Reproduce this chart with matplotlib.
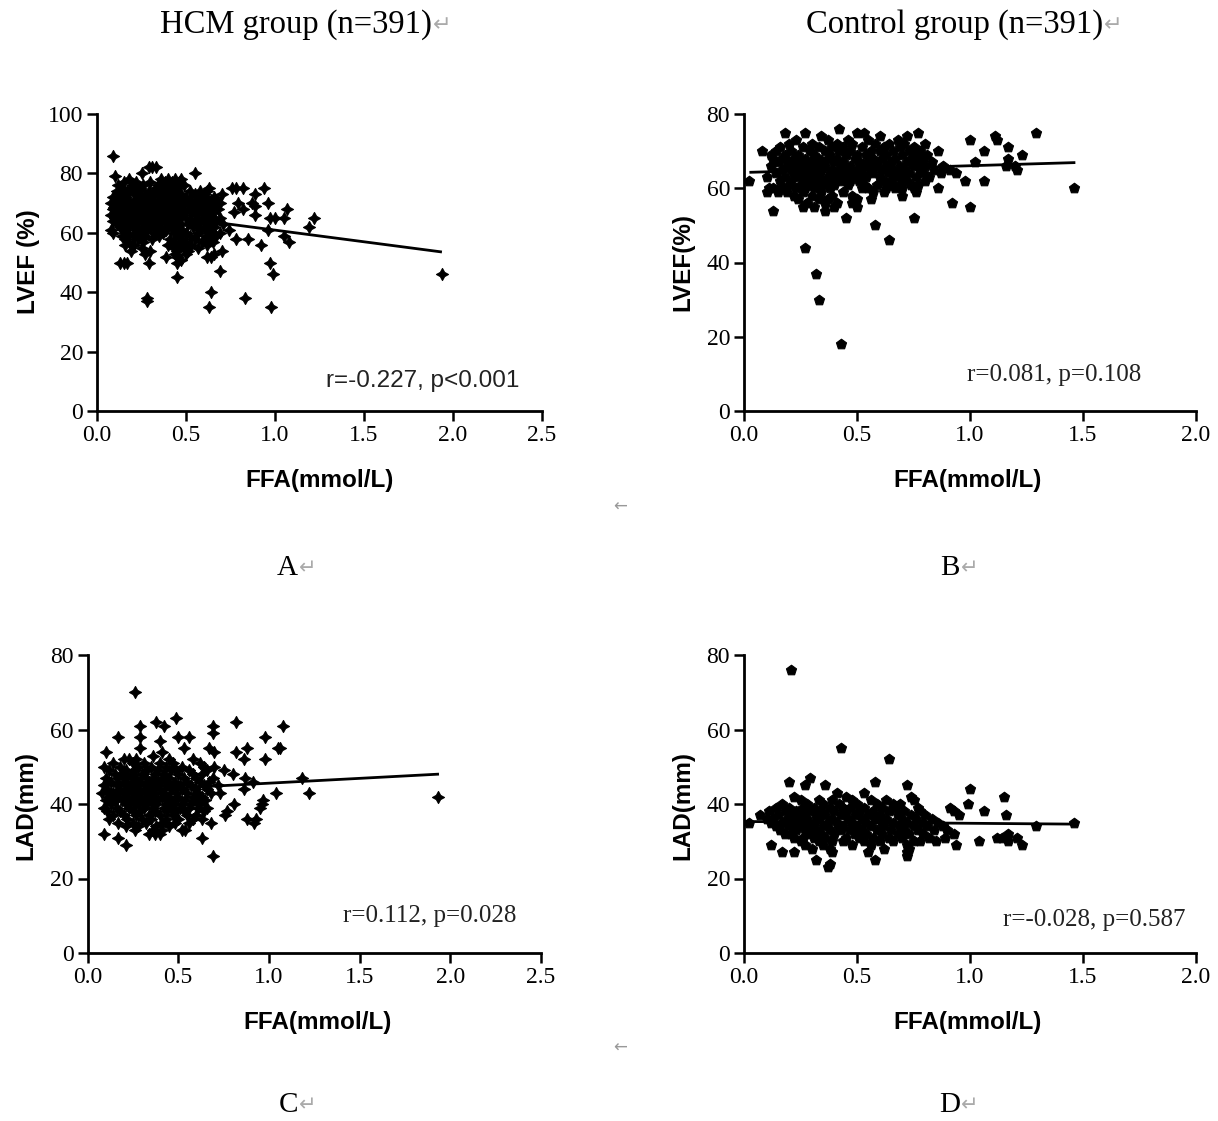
import matplotlib
matplotlib.use("Agg")
import matplotlib.pyplot as plt

W, H = 1218, 1121

# ---------------- data (FFA mmol/L, outcome) ----------------
hcm_lvef_points = [
    (0.09, 86),
    (0.29, 82), (0.31, 82), (0.33, 82),
    (0.10, 79), (0.25, 80), (0.55, 80),
    (0.18, 78), (0.36, 78), (0.40, 78), (0.44, 78), (0.47, 78),
    (0.15, 77), (0.22, 77), (0.30, 77), (0.38, 77), (0.42, 77), (0.46, 77),
    (0.12, 76), (0.20, 76), (0.26, 76), (0.34, 76), (0.39, 76), (0.43, 76), (0.49, 76),
    (0.14, 75), (0.19, 75), (0.24, 75), (0.33, 75), (0.37, 75), (0.41, 75), (0.45, 75), (0.63, 75),
    (0.76, 75), (0.78, 75), (0.82, 75), (0.94, 75),
    (0.11, 74), (0.17, 74), (0.23, 74), (0.29, 74), (0.35, 74), (0.40, 74), (0.44, 74), (0.52, 74),
    (0.58, 74), (0.62, 74),
    (0.13, 73), (0.21, 73), (0.27, 73), (0.32, 73), (0.38, 73), (0.42, 73), (0.47, 73), (0.55, 73),
    (0.60, 73), (0.70, 73), (0.89, 73),
    (0.09, 72), (0.16, 72), (0.24, 72), (0.30, 72), (0.36, 72), (0.41, 72), (0.45, 72), (0.50, 72),
    (0.57, 72), (0.61, 72), (0.66, 72),
    (0.12, 71), (0.18, 71), (0.22, 71), (0.28, 71), (0.34, 71), (0.39, 71), (0.43, 71), (0.48, 71),
    (0.53, 71), (0.59, 71), (0.64, 71), (0.67, 71),
    (0.08, 70), (0.14, 70), (0.20, 70), (0.26, 70), (0.31, 70), (0.37, 70), (0.40, 70), (0.46, 70),
    (0.51, 70), (0.56, 70), (0.62, 70), (0.69, 70), (0.79, 70), (0.87, 70), (0.96, 70),
    (0.10, 69), (0.17, 69), (0.23, 69), (0.29, 69), (0.33, 69), (0.38, 69), (0.42, 69), (0.47, 69),
    (0.54, 69), (0.60, 69), (0.65, 69), (0.89, 69),
    (0.09, 68), (0.13, 68), (0.19, 68), (0.25, 68), (0.30, 68), (0.35, 68), (0.41, 68), (0.44, 68),
    (0.49, 68), (0.58, 68), (0.63, 68), (0.68, 68), (0.82, 68), (1.07, 68),
    (0.11, 67), (0.16, 67), (0.21, 67), (0.27, 67), (0.32, 67), (0.36, 67), (0.40, 67), (0.45, 67),
    (0.52, 67), (0.57, 67), (0.61, 67), (0.66, 67), (0.77, 67),
    (0.08, 66), (0.14, 66), (0.18, 66), (0.24, 66), (0.28, 66), (0.34, 66), (0.39, 66), (0.43, 66),
    (0.48, 66), (0.55, 66), (0.62, 66), (0.89, 66),
    (0.10, 65), (0.15, 65), (0.22, 65), (0.26, 65), (0.31, 65), (0.37, 65), (0.41, 65), (0.46, 65),
    (0.50, 65), (0.59, 65), (0.64, 65), (0.69, 65), (0.97, 65), (1.00, 65), (1.05, 65), (1.22, 65),
    (0.09, 64), (0.12, 64), (0.19, 64), (0.23, 64), (0.29, 64), (0.35, 64), (0.38, 64), (0.44, 64),
    (0.53, 64), (0.57, 64), (0.61, 64), (0.67, 64),
    (0.11, 63), (0.16, 63), (0.21, 63), (0.27, 63), (0.33, 63), (0.40, 63), (0.47, 63), (0.51, 63),
    (0.56, 63), (0.63, 63), (0.71, 63),
    (0.13, 62), (0.18, 62), (0.25, 62), (0.30, 62), (0.36, 62), (0.42, 62), (0.45, 62), (0.54, 62),
    (0.60, 62), (0.66, 62), (1.19, 62),
    (0.08, 61), (0.15, 61), (0.22, 61), (0.28, 61), (0.34, 61), (0.39, 61), (0.48, 61), (0.58, 61),
    (0.62, 61), (0.74, 61), (0.96, 61),
    (0.09, 60), (0.17, 60), (0.24, 60), (0.32, 60), (0.37, 60), (0.43, 60), (0.50, 60), (0.57, 60),
    (0.64, 60), (0.69, 60),
    (0.14, 59), (0.20, 59), (0.27, 59), (0.35, 59), (0.46, 59), (0.52, 59), (0.61, 59), (0.67, 59),
    (1.05, 59),
    (0.16, 58), (0.23, 58), (0.31, 58), (0.41, 58), (0.48, 58), (0.55, 58), (0.63, 58), (0.78, 58),
    (0.85, 58),
    (0.18, 57), (0.26, 57), (0.44, 57), (0.50, 57), (0.59, 57), (0.65, 57), (1.08, 57),
    (0.16, 56), (0.21, 56), (0.40, 56), (0.47, 56), (0.53, 56), (0.62, 56), (0.92, 56),
    (0.25, 55), (0.43, 55), (0.49, 55), (0.57, 55),
    (0.19, 54), (0.30, 54), (0.45, 54), (0.51, 54), (0.70, 54),
    (0.27, 53), (0.44, 53), (0.50, 53), (0.66, 53),
    (0.39, 52), (0.45, 52), (0.62, 52), (0.64, 52),
    (0.47, 51),
    (0.13, 50), (0.15, 50), (0.17, 50), (0.29, 50), (0.45, 50), (0.97, 50),
    (0.69, 47), (0.99, 46), (1.94, 46), (0.45, 45), (0.64, 40), (0.28, 38), (0.83, 38),
    (0.28, 37), (0.63, 35), (0.98, 35),
]

ctrl_lvef_points = [
    (0.42, 76),
    (0.18, 75), (0.27, 75), (0.50, 75), (0.53, 75), (0.77, 75), (1.29, 75),
    (0.34, 74), (0.60, 74), (0.72, 74), (1.11, 74),
    (0.23, 73), (0.37, 73), (0.46, 73), (0.55, 73), (0.68, 73), (1.00, 73), (1.12, 73),
    (0.20, 72), (0.30, 72), (0.41, 72), (0.48, 72), (0.58, 72), (0.64, 72), (0.71, 72), (0.80, 72),
    (0.16, 71), (0.26, 71), (0.33, 71), (0.39, 71), (0.44, 71), (0.52, 71), (0.62, 71), (0.69, 71),
    (0.75, 71), (1.17, 71),
    (0.08, 70), (0.14, 70), (0.21, 70), (0.29, 70), (0.36, 70), (0.42, 70), (0.47, 70), (0.56, 70),
    (0.60, 70), (0.66, 70), (0.73, 70), (0.78, 70), (0.86, 70), (1.06, 70),
    (0.12, 69), (0.18, 69), (0.24, 69), (0.31, 69), (0.38, 69), (0.45, 69), (0.50, 69), (0.54, 69),
    (0.63, 69), (0.70, 69), (0.76, 69), (0.81, 69), (1.23, 69),
    (0.13, 68), (0.17, 68), (0.22, 68), (0.27, 68), (0.33, 68), (0.37, 68), (0.41, 68), (0.49, 68),
    (0.57, 68), (0.61, 68), (0.67, 68), (0.74, 68), (0.79, 68), (1.17, 68),
    (0.15, 67), (0.20, 67), (0.25, 67), (0.30, 67), (0.35, 67), (0.40, 67), (0.44, 67), (0.51, 67),
    (0.55, 67), (0.59, 67), (0.65, 67), (0.72, 67), (0.77, 67), (0.83, 67), (1.02, 67),
    (0.12, 66), (0.19, 66), (0.23, 66), (0.28, 66), (0.32, 66), (0.36, 66), (0.43, 66), (0.47, 66),
    (0.53, 66), (0.58, 66), (0.63, 66), (0.69, 66), (0.75, 66), (0.80, 66), (0.88, 66), (1.16, 66),
    (1.20, 66),
    (0.17, 65), (0.21, 65), (0.26, 65), (0.31, 65), (0.34, 65), (0.39, 65), (0.42, 65), (0.46, 65),
    (0.50, 65), (0.56, 65), (0.61, 65), (0.66, 65), (0.71, 65), (0.78, 65), (0.84, 65), (0.91, 65),
    (1.21, 65),
    (0.14, 64), (0.22, 64), (0.25, 64), (0.29, 64), (0.33, 64), (0.38, 64), (0.45, 64), (0.48, 64),
    (0.52, 64), (0.57, 64), (0.64, 64), (0.68, 64), (0.73, 64), (0.79, 64), (0.87, 64), (0.94, 64),
    (0.10, 63), (0.18, 63), (0.24, 63), (0.28, 63), (0.32, 63), (0.37, 63), (0.41, 63), (0.44, 63),
    (0.49, 63), (0.54, 63), (0.60, 63), (0.67, 63), (0.70, 63), (0.76, 63), (0.82, 63),
    (0.02, 62), (0.16, 62), (0.21, 62), (0.27, 62), (0.30, 62), (0.35, 62), (0.39, 62), (0.43, 62),
    (0.47, 62), (0.51, 62), (0.62, 62), (0.65, 62), (0.72, 62), (0.80, 62), (0.98, 62), (1.06, 62),
    (0.20, 61), (0.25, 61), (0.29, 61), (0.33, 61), (0.36, 61), (0.40, 61), (0.46, 61), (0.53, 61),
    (0.59, 61), (0.66, 61), (0.69, 61), (0.74, 61), (0.77, 61),
    (0.11, 60), (0.13, 60), (0.17, 60), (0.23, 60), (0.27, 60), (0.31, 60), (0.38, 60), (0.52, 60),
    (0.55, 60), (0.63, 60), (0.67, 60), (0.70, 60), (0.75, 60), (0.86, 60), (1.46, 60),
    (0.10, 59), (0.15, 59), (0.19, 59), (0.26, 59), (0.34, 59), (0.44, 59), (0.57, 59), (0.62, 59),
    (0.76, 59),
    (0.22, 58), (0.30, 58), (0.39, 58), (0.48, 58), (0.70, 58),
    (0.24, 57), (0.33, 57), (0.37, 57), (0.50, 57), (0.56, 57),
    (0.28, 56), (0.36, 56), (0.41, 56), (0.48, 56), (0.92, 56),
    (0.26, 55), (0.31, 55), (0.40, 55), (0.50, 55), (1.00, 55),
    (0.13, 54), (0.36, 54),
    (0.45, 52), (0.75, 52), (0.58, 50), (0.64, 46), (0.27, 44), (0.32, 37), (0.33, 30), (0.43, 18),
]

hcm_lad_points = [
    (0.26, 70), (0.49, 63), (0.38, 62), (0.82, 62),
    (0.29, 61), (0.42, 61), (0.69, 61), (1.08, 61), (0.69, 59),
    (0.17, 58), (0.29, 58), (0.50, 58), (0.56, 58), (0.98, 58), (0.40, 57),
    (0.29, 55), (0.53, 55), (0.67, 55), (0.88, 55), (1.05, 55), (1.06, 55),
    (0.10, 54), (0.41, 54), (0.70, 54), (0.82, 54), (0.36, 53),
    (0.20, 52), (0.23, 52), (0.27, 52), (0.45, 52), (0.58, 52), (0.86, 52), (0.98, 52),
    (0.14, 51), (0.25, 51), (0.31, 51), (0.40, 51), (0.47, 51), (0.62, 51),
    (0.09, 50), (0.18, 50), (0.28, 50), (0.35, 50), (0.43, 50), (0.52, 50), (0.64, 50), (0.70, 50),
    (0.12, 49), (0.21, 49), (0.26, 49), (0.33, 49), (0.39, 49), (0.46, 49), (0.49, 49), (0.56, 49),
    (0.66, 49), (0.75, 49),
    (0.15, 48), (0.19, 48), (0.24, 48), (0.30, 48), (0.37, 48), (0.42, 48), (0.50, 48), (0.58, 48),
    (0.63, 48), (0.80, 48),
    (0.10, 47), (0.17, 47), (0.22, 47), (0.27, 47), (0.32, 47), (0.36, 47), (0.41, 47), (0.45, 47),
    (0.53, 47), (0.60, 47), (0.69, 47), (0.87, 47), (1.18, 47),
    (0.13, 46), (0.20, 46), (0.25, 46), (0.29, 46), (0.34, 46), (0.39, 46), (0.44, 46), (0.48, 46),
    (0.55, 46), (0.62, 46), (0.67, 46), (0.91, 46),
    (0.09, 45), (0.16, 45), (0.21, 45), (0.24, 45), (0.28, 45), (0.33, 45), (0.38, 45), (0.43, 45),
    (0.47, 45), (0.51, 45), (0.57, 45), (0.64, 45), (0.72, 45),
    (0.11, 44), (0.18, 44), (0.23, 44), (0.26, 44), (0.31, 44), (0.35, 44), (0.40, 44), (0.46, 44),
    (0.52, 44), (0.59, 44), (0.66, 44), (0.86, 44),
    (0.08, 43), (0.14, 43), (0.20, 43), (0.25, 43), (0.29, 43), (0.34, 43), (0.37, 43), (0.42, 43),
    (0.49, 43), (0.55, 43), (0.61, 43), (0.68, 43), (0.73, 43), (1.04, 43), (1.22, 43),
    (0.12, 42), (0.17, 42), (0.22, 42), (0.27, 42), (0.32, 42), (0.36, 42), (0.41, 42), (0.45, 42),
    (0.50, 42), (0.58, 42), (0.63, 42), (1.93, 42),
    (0.10, 41), (0.15, 41), (0.19, 41), (0.24, 41), (0.30, 41), (0.35, 41), (0.39, 41), (0.44, 41),
    (0.48, 41), (0.54, 41), (0.60, 41), (0.65, 41), (0.97, 41),
    (0.13, 40), (0.21, 40), (0.26, 40), (0.28, 40), (0.33, 40), (0.38, 40), (0.43, 40), (0.47, 40),
    (0.52, 40), (0.57, 40), (0.62, 40), (0.81, 40), (0.96, 40),
    (0.09, 39), (0.16, 39), (0.23, 39), (0.31, 39), (0.36, 39), (0.42, 39), (0.46, 39), (0.51, 39),
    (0.56, 39), (0.61, 39), (0.66, 39), (0.95, 39),
    (0.11, 38), (0.18, 38), (0.25, 38), (0.29, 38), (0.37, 38), (0.44, 38), (0.49, 38), (0.53, 38),
    (0.64, 38), (0.77, 38),
    (0.14, 37), (0.20, 37), (0.27, 37), (0.34, 37), (0.40, 37), (0.47, 37), (0.55, 37), (0.60, 37),
    (0.76, 37),
    (0.12, 36), (0.22, 36), (0.30, 36), (0.35, 36), (0.43, 36), (0.50, 36), (0.58, 36), (0.63, 36),
    (0.88, 36), (0.93, 36),
    (0.17, 35), (0.25, 35), (0.32, 35), (0.41, 35), (0.48, 35), (0.56, 35), (0.68, 35), (0.92, 35),
    (0.21, 34), (0.28, 34), (0.38, 34), (0.45, 34),
    (0.26, 33), (0.36, 33), (0.41, 33), (0.52, 33), (0.54, 33),
    (0.09, 32), (0.34, 32), (0.37, 32), (0.40, 32),
    (0.17, 31), (0.63, 31), (0.21, 29), (0.69, 26),
]

ctrl_lad_points = [
    (0.21, 76), (0.43, 55), (0.64, 52), (0.29, 47), (0.20, 46), (0.58, 46),
    (0.27, 45), (0.36, 45), (0.72, 45), (1.00, 44), (0.41, 43), (0.53, 43),
    (0.22, 42), (0.45, 42), (0.74, 42), (1.15, 42),
    (0.25, 41), (0.33, 41), (0.39, 41), (0.48, 41), (0.56, 41), (0.63, 41), (0.75, 41),
    (0.17, 40), (0.28, 40), (0.35, 40), (0.42, 40), (0.50, 40), (0.59, 40), (0.66, 40), (0.69, 40),
    (0.99, 40),
    (0.14, 39), (0.20, 39), (0.26, 39), (0.31, 39), (0.38, 39), (0.44, 39), (0.47, 39), (0.53, 39),
    (0.61, 39), (0.67, 39), (0.77, 39), (0.91, 39),
    (0.11, 38), (0.18, 38), (0.23, 38), (0.29, 38), (0.34, 38), (0.40, 38), (0.45, 38), (0.51, 38),
    (0.57, 38), (0.64, 38), (0.71, 38), (0.78, 38), (0.93, 38), (1.06, 38),
    (0.07, 37), (0.15, 37), (0.21, 37), (0.26, 37), (0.32, 37), (0.36, 37), (0.43, 37), (0.49, 37),
    (0.55, 37), (0.60, 37), (0.68, 37), (0.74, 37), (0.80, 37), (0.95, 37), (1.16, 37),
    (0.10, 36), (0.13, 36), (0.19, 36), (0.24, 36), (0.28, 36), (0.33, 36), (0.39, 36), (0.46, 36),
    (0.52, 36), (0.58, 36), (0.63, 36), (0.70, 36), (0.76, 36), (0.83, 36),
    (0.02, 35), (0.12, 35), (0.17, 35), (0.22, 35), (0.27, 35), (0.31, 35), (0.37, 35), (0.41, 35),
    (0.48, 35), (0.54, 35), (0.61, 35), (0.66, 35), (0.72, 35), (0.79, 35), (0.86, 35), (1.46, 35),
    (0.14, 34), (0.20, 34), (0.25, 34), (0.30, 34), (0.35, 34), (0.42, 34), (0.44, 34), (0.50, 34),
    (0.56, 34), (0.62, 34), (0.69, 34), (0.75, 34), (0.81, 34), (0.88, 34), (1.29, 34),
    (0.16, 33), (0.23, 33), (0.27, 33), (0.32, 33), (0.38, 33), (0.43, 33), (0.47, 33), (0.52, 33),
    (0.59, 33), (0.65, 33), (0.71, 33), (0.77, 33), (0.84, 33), (0.90, 33),
    (0.18, 32), (0.21, 32), (0.29, 32), (0.34, 32), (0.40, 32), (0.49, 32), (0.54, 32), (0.61, 32),
    (0.68, 32), (0.73, 32), (0.79, 32), (0.93, 32), (1.17, 32),
    (0.22, 31), (0.26, 31), (0.31, 31), (0.36, 31), (0.45, 31), (0.51, 31), (0.57, 31), (0.64, 31),
    (0.70, 31), (0.82, 31), (0.89, 31), (1.12, 31), (1.14, 31), (1.21, 31),
    (0.25, 30), (0.33, 30), (0.39, 30), (0.44, 30), (0.53, 30), (0.60, 30), (0.66, 30), (0.75, 30),
    (0.78, 30), (0.85, 30), (1.04, 30), (1.17, 30),
    (0.12, 29), (0.27, 29), (0.35, 29), (0.48, 29), (0.56, 29), (0.72, 29), (0.94, 29), (1.23, 29),
    (0.30, 28), (0.38, 28), (0.62, 28), (0.73, 28),
    (0.17, 27), (0.22, 27), (0.39, 27), (0.55, 27), (0.72, 27),
    (0.72, 26), (0.32, 25), (0.58, 25), (0.38, 24), (0.37, 23),
]

# regression line end points
fit_a_x = [0.07, 1.93]
fit_a_y = [68.2, 53.6]
fit_b_x = [0.03, 1.46]
fit_b_y = [64.3, 66.9]
fit_c_x = [0.08, 1.93]
fit_c_y = [43.2, 48.0]
fit_d_x = [0.01, 1.46]
fit_d_y = [35.3, 34.6]

stats_text = ["r=-0.227, p<0.001", "r=0.081, p=0.108", "r=0.112, p=0.028", "r=-0.028, p=0.587"]
y_labels = ["LVEF (%)", "LVEF(%)", "LAD(mm)", "LAD(mm)"]
x_label = "FFA(mmol/L)"
group_titles = ["HCM group (n=391)", "Control group (n=391)"]
panel_letters = ["A", "B", "C", "D"]

SERIF = ["Liberation Serif", "DejaVu Serif"]
SANS = ["Liberation Sans", "DejaVu Sans"]


def fx(px):
    return px / W


def fy(py):
    return 1 - py / H


fig = plt.figure(figsize=(W / 100, H / 100), dpi=100)
fig.patch.set_facecolor("white")

# axes boxes in pixels: (left, right, top, bottom)
boxes = [(97, 542, 114, 411), (744, 1196, 114, 411), (87.5, 541, 655, 953), (744, 1196, 655, 953)]
xmaxs = [2.5, 2.0, 2.5, 2.0]
ymaxs = [100, 80, 80, 80]
datasets = [hcm_lvef_points, ctrl_lvef_points, hcm_lad_points, ctrl_lad_points]
fits = [(fit_a_x, fit_a_y), (fit_b_x, fit_b_y), (fit_c_x, fit_c_y), (fit_d_x, fit_d_y)]
markers = [(4, 1, 0), "p", (4, 1, 0), "p"]
msizes = [75, 58, 75, 58]

for i in range(4):
    l, r, t, b = boxes[i]
    ax = fig.add_axes([fx(l), fy(b), (r - l) / W, (b - t) / H])
    pts = datasets[i]
    xs = [p[0] for p in pts]
    ys = [p[1] for p in pts]
    ax.scatter(xs, ys, marker=markers[i], s=msizes[i], color="black",
               linewidths=0.8, edgecolors="black", clip_on=False, zorder=3)
    ax.plot(fits[i][0], fits[i][1], color="black", lw=2.0, zorder=4)
    ax.set_xlim(0, xmaxs[i])
    ax.set_ylim(0, ymaxs[i])
    xt = [k * 0.5 for k in range(int(xmaxs[i] / 0.5) + 1)]
    ax.set_xticks(xt)
    ax.set_xticklabels([f"{v:.1f}" for v in xt])
    yt = list(range(0, ymaxs[i] + 1, 20))
    ax.set_yticks(yt)
    ax.set_yticklabels([str(v) for v in yt])
    for s in ["top", "right"]:
        ax.spines[s].set_visible(False)
    for s in ["left", "bottom"]:
        ax.spines[s].set_linewidth(2.0)
    ax.tick_params(direction="out", length=7, width=1.8, pad=3, labelsize=17)
    for lab in ax.get_xticklabels() + ax.get_yticklabels():
        lab.set_fontfamily(SERIF)

# axis labels
ylab_pos = [(28, 262), (683, 262), (26, 805), (683, 805)]
xlab_pos = [(320, 480), (968, 480), (318, 1022), (968, 1022)]
for i in range(4):
    fig.text(fx(ylab_pos[i][0]), fy(ylab_pos[i][1]), y_labels[i], rotation=90,
             ha="center", va="center", fontsize=17.5, fontweight="bold", family=SANS)
    fig.text(fx(xlab_pos[i][0]), fy(xlab_pos[i][1]), x_label,
             ha="center", va="center", fontsize=17.5, fontweight="bold", family=SANS)

# correlation stats
stat_pos = [(423, 381), (1054, 375), (430, 916), (1094, 920)]
stat_fam = [SANS, SERIF, SERIF, SERIF]
stat_size = [17.5, 18, 18, 18]
for i in range(4):
    fig.text(fx(stat_pos[i][0]), fy(stat_pos[i][1]), stats_text[i], ha="center", va="center",
             fontsize=stat_size[i], family=stat_fam[i], color="#222222")

ARROW_FAM = ["DejaVu Sans"]
# group titles
title_right = [432, 1103]
for i in range(2):
    fig.text(fx(title_right[i]), fy(25), group_titles[i], ha="right", va="center",
             fontsize=23.5, family=SERIF)
    fig.text(fx(title_right[i] + 1), fy(25), "\u21b5", ha="left", va="center",
             fontsize=16, family=ARROW_FAM, color="#aaaaaa")

# panel letters
letter_pos = [(298, 568), (960, 568), (298, 1105), (960, 1105)]
for i in range(4):
    fig.text(fx(letter_pos[i][0]), fy(letter_pos[i][1]), panel_letters[i], ha="right", va="center",
             fontsize=21, family=SERIF)
    fig.text(fx(letter_pos[i][0] + 1), fy(letter_pos[i][1]), "\u21b5", ha="left", va="center",
             fontsize=15, family=ARROW_FAM, color="#aaaaaa")

for py in (507, 1048):
    fig.text(fx(620), fy(py), "\u2190", ha="center", va="center", fontsize=12,
             family=ARROW_FAM, color="#999999")

fig.savefig("out.png", dpi=100, facecolor="white")
